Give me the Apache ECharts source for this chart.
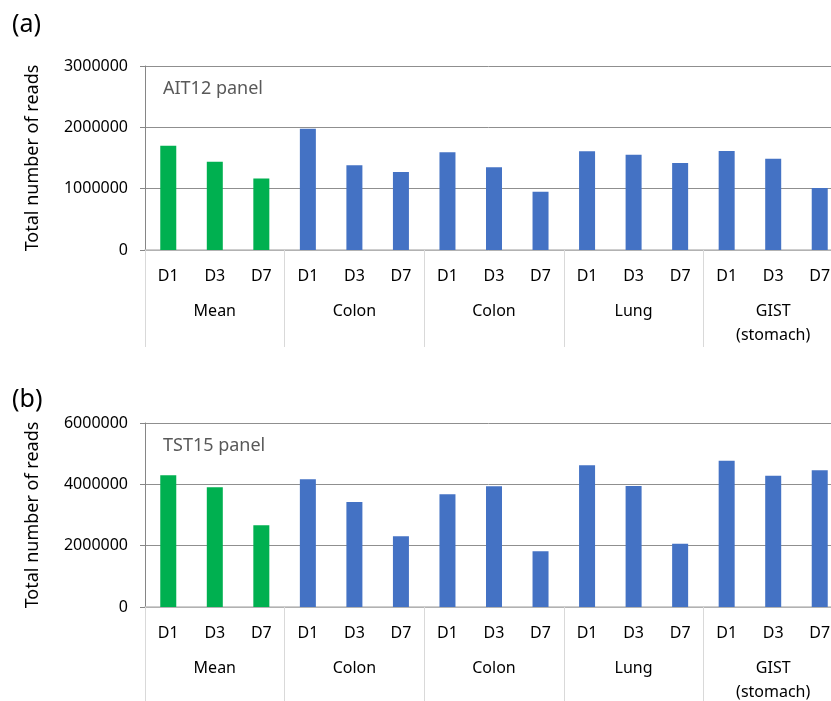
<!DOCTYPE html>
<html>
<head>
<meta charset="utf-8">
<script src="https://cdn.jsdelivr.net/npm/echarts@6/dist/echarts.min.js"></script>
<style>
  html, body { margin: 0; padding: 0; background: #ffffff; overflow: hidden; }
  #chart { width: 831px; height: 701px; }
</style>
</head>
<body>
<div id="chart"></div>
<script>
// Sampling days within each group and the group names along the bottom
const days = ['D1', 'D3', 'D7'];
const groups = ['Mean', 'Colon', 'Colon', 'Lung', 'GIST\n(stomach)'];

// Total number of reads per group, in day order D1, D3, D7
const aitMean  = [1700000, 1440000, 1165000];
const aitColonA = [1975000, 1380000, 1272000];
const aitColonB = [1592000, 1348000, 951000];
const aitLung  = [1609000, 1554000, 1418000];
const aitGist  = [1614000, 1489000, 1011000];

const tstMean  = [4293000, 3902000, 2663000];
const tstColonA = [4163000, 3424000, 2304000];
const tstColonB = [3674000, 3935000, 1815000];
const tstLung  = [4620000, 3946000, 2065000];
const tstGist  = [4772000, 4283000, 4457000];

// Y axis ranges and tick steps
const aitTicks = [0, 1000000, 2000000, 3000000];
const tstTicks = [0, 2000000, 4000000, 6000000];

const GREEN = '#00b050';
const BLUE = '#4472c4';
const FONT = 'Noto Sans';

const aitGroups = [aitMean, aitColonA, aitColonB, aitLung, aitGist];
const tstGroups = [tstMean, tstColonA, tstColonB, tstLung, tstGist];

const dayCategories = groups.flatMap(() => days);

function barData(groupValues) {
  return groupValues.flatMap((vals, gi) =>
    vals.map(v => ({ value: v, itemStyle: { color: gi === 0 ? GREEN : BLUE } }))
  );
}

function dayAxis(gridIndex) {
  return {
    type: 'category', gridIndex: gridIndex, position: 'bottom',
    data: dayCategories,
    axisLine: { show: true, lineStyle: { color: '#bfbfbf', width: 1.5 } },
    axisTick: { show: false },
    axisLabel: { interval: 0, margin: 16, fontFamily: FONT, fontSize: 16, lineHeight: 20, color: '#000000' }
  };
}

function groupAxis(gridIndex) {
  return {
    type: 'category', gridIndex: gridIndex, position: 'bottom',
    data: groups,
    axisLine: { show: false },
    axisTick: { show: true, interval: 0, length: 97, lineStyle: { color: '#d9d9d9', width: 1 } },
    axisLabel: { interval: 0, margin: 49, fontFamily: FONT, fontSize: 16, lineHeight: 24, color: '#000000' }
  };
}

function valueAxis(gridIndex, ticks) {
  return {
    type: 'value', gridIndex: gridIndex,
    min: ticks[0], max: ticks[ticks.length - 1], interval: ticks[1] - ticks[0],
    name: 'Total number of reads', nameLocation: 'middle', nameGap: 103,
    nameTextStyle: { fontFamily: FONT, fontSize: 18, color: '#000000' },
    axisLine: { show: true, lineStyle: { color: '#868686', width: 1 } },
    axisTick: { show: true, length: 5, lineStyle: { color: '#868686' } },
    axisLabel: { margin: 17, fontFamily: FONT, fontSize: 16, color: '#000000', formatter: v => String(v) },
    splitLine: { show: true, lineStyle: { color: '#8f8f8f', width: 1 } }
  };
}

function label(text, left, top, size, color) {
  return {
    text: text, left: left, top: top, padding: 0,
    textStyle: { fontFamily: FONT, fontSize: size, fontWeight: 'normal', color: color }
  };
}

const chart = echarts.init(document.getElementById('chart'), null, { renderer: 'canvas' });

chart.setOption({
  animation: false,
  backgroundColor: '#ffffff',
  title: [
    label('(a)', 12, 12, 25, '#000000'),
    label('(b)', 12, 387, 25, '#000000'),
    label('AIT12 panel', 163, 80, 18, '#595959'),
    label('TST15 panel', 163, 437, 18, '#595959')
  ],
  // the plot runs a little past the right edge of the page, so the last group is cut off
  grid: [
    { left: 145, width: 698, top: 66, height: 184, outerBoundsMode: 'none', containLabel: false },
    { left: 145, width: 698, top: 423, height: 184, outerBoundsMode: 'none', containLabel: false }
  ],
  xAxis: [dayAxis(0), groupAxis(0), dayAxis(1), groupAxis(1)],
  yAxis: [valueAxis(0, aitTicks), valueAxis(1, tstTicks)],
  series: [
    { type: 'bar', xAxisIndex: 0, yAxisIndex: 0, barWidth: 16, data: barData(aitGroups) },
    { type: 'bar', xAxisIndex: 2, yAxisIndex: 1, barWidth: 16, data: barData(tstGroups) }
  ]
});
</script>
</body>
</html>
